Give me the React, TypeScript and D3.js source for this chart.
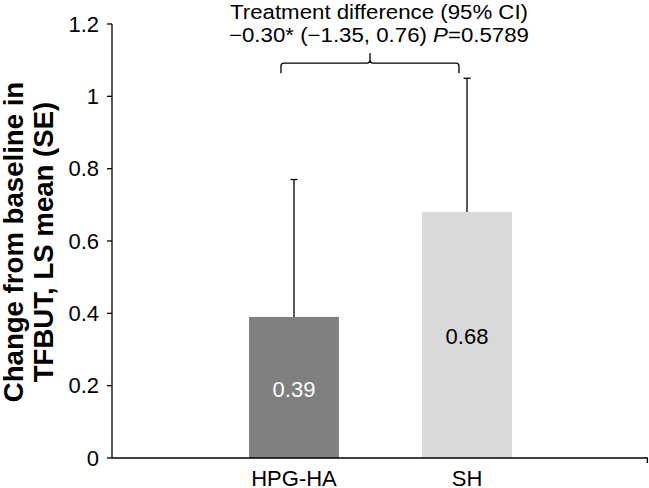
import React from "react";
import * as d3 from "d3";

const categories = ["HPG-HA", "SH"];
const means = [0.39, 0.68];
const upperErrors = [0.77, 1.05];
const barColors = ["#808080", "#d9d9d9"];
const labelColors = ["#ffffff", "#000000"];
const yTicks = [0, 0.2, 0.4, 0.6, 0.8, 1, 1.2];
const titleLine1 = "Treatment difference (95% CI)";
const titleLine2a = "\u22120.30* (\u22121.35, 0.76) ";
const titleLine2b = "P";
const titleLine2c = "=0.5789";
const yLabel1 = "Change from baseline in";
const yLabel2 = "TFBUT, LS mean (SE)";
const braceLevels = [1.064, 1.092, 1.12];

const W = 649;
const H = 488;
const FONT = "'Liberation Sans', Arial, sans-serif";

export default function App() {
  const y = d3.scaleLinear().domain([0, 1.2]).range([458, 24]);
  const x = d3
    .scaleBand<string>()
    .domain(categories)
    .range([207.5, 553.5])
    .paddingInner(0.48)
    .paddingOuter(0.24);
  const axisX = 112;
  const axisRight = 648;
  const fmt = (v: number) => (v === 0 || v === 1 ? String(v) : v.toFixed(1));

  const cx0 = (x(categories[0]) as number) + x.bandwidth() / 2;
  const cx1 = (x(categories[1]) as number) + x.bandwidth() / 2;
  const bl = cx0 - 13;
  const br = cx1 - 8;
  const bm = (bl + br) / 2;
  const yb = y(braceLevels[0]);
  const yh = y(braceLevels[1]);
  const yp = y(braceLevels[2]);
  const r = 3;
  const bracePath = `M${bl},${yb} L${bl},${yh + r} Q${bl},${yh} ${bl + r},${yh} L${bm - r},${yh} Q${bm},${yh} ${bm},${yh - r} L${bm},${yp} M${bm},${yh - r} Q${bm},${yh} ${bm + r},${yh} L${br - r},${yh} Q${br},${yh} ${br},${yh + r} L${br},${yb}`;
  const titleX = bm + 9;

  return (
    <svg
      width={W}
      height={H}
      style={{ position: "absolute", left: 0, top: 0, background: "#fff" }}
      fontFamily={FONT}
    >
      <rect width={W} height={H} fill="#fff" />
      {/* bars */}
      {categories.map((c, i) => (
        <rect
          key={c}
          x={x(c)}
          y={y(means[i])}
          width={x.bandwidth()}
          height={y(0) - y(means[i])}
          fill={barColors[i]}
        />
      ))}
      {/* error bars */}
      {categories.map((c, i) => {
        const cx = (x(c) as number) + x.bandwidth() / 2;
        return (
          <g key={c + "e"} stroke="#000" strokeWidth={1.3}>
            <line x1={cx} x2={cx} y1={y(means[i])} y2={y(upperErrors[i])} />
            <line x1={cx - 3.5} x2={cx + 3.5} y1={y(upperErrors[i])} y2={y(upperErrors[i])} />
          </g>
        );
      })}
      {/* value labels */}
      {categories.map((c, i) => (
        <text
          key={c + "v"}
          x={(x(c) as number) + x.bandwidth() / 2}
          y={i === 0 ? 397 : 344}
          textAnchor="middle"
          fontSize={22}
          fill={labelColors[i]}
        >
          {means[i].toFixed(2)}
        </text>
      ))}
      {/* y axis */}
      <line x1={axisX} x2={axisX} y1={y(1.2)} y2={y(0)} stroke="#000" strokeWidth={1.3} />
      {yTicks.map((t) => (
        <g key={t}>
          <line x1={axisX - 5} x2={axisX} y1={y(t)} y2={y(t)} stroke="#000" strokeWidth={1.3} />
          <text x={99} y={y(t) + 7.8} textAnchor="end" fontSize={22} fill="#000">
            {fmt(t)}
          </text>
        </g>
      ))}
      {/* x axis */}
      <line x1={axisX} x2={axisRight} y1={y(0)} y2={y(0)} stroke="#000" strokeWidth={1.3} />
      <line x1={axisRight - 0.6} x2={axisRight - 0.6} y1={y(0)} y2={y(0) + 5} stroke="#000" strokeWidth={1.3} />
      {categories.map((c) => (
        <text
          key={c + "l"}
          x={(x(c) as number) + x.bandwidth() / 2}
          y={486}
          textAnchor="middle"
          fontSize={22}
          fill="#000"
        >
          {c}
        </text>
      ))}
      {/* y label */}
      <g transform="translate(0,242) rotate(-90)">
        <text x={0} y={23} textAnchor="middle" fontSize={27.6} fontWeight="bold" fill="#000">
          {yLabel1}
        </text>
        <text x={0} y={53} textAnchor="middle" fontSize={27.6} fontWeight="bold" fill="#000">
          {yLabel2}
        </text>
      </g>
      {/* treatment difference annotation */}
      <text
        x={titleX}
        y={18.5}
        textAnchor="middle"
        fontSize={20}
        fill="#000"
        textLength={298}
        lengthAdjust="spacingAndGlyphs"
      >
        {titleLine1}
      </text>
      <text
        x={titleX}
        y={42}
        textAnchor="middle"
        fontSize={20}
        fill="#000"
        textLength={300}
        lengthAdjust="spacingAndGlyphs"
      >
        {titleLine2a}
        <tspan fontStyle="italic">{titleLine2b}</tspan>
        {titleLine2c}
      </text>
      <path d={bracePath} fill="none" stroke="#000" strokeWidth={1.3} />
    </svg>
  );
}
